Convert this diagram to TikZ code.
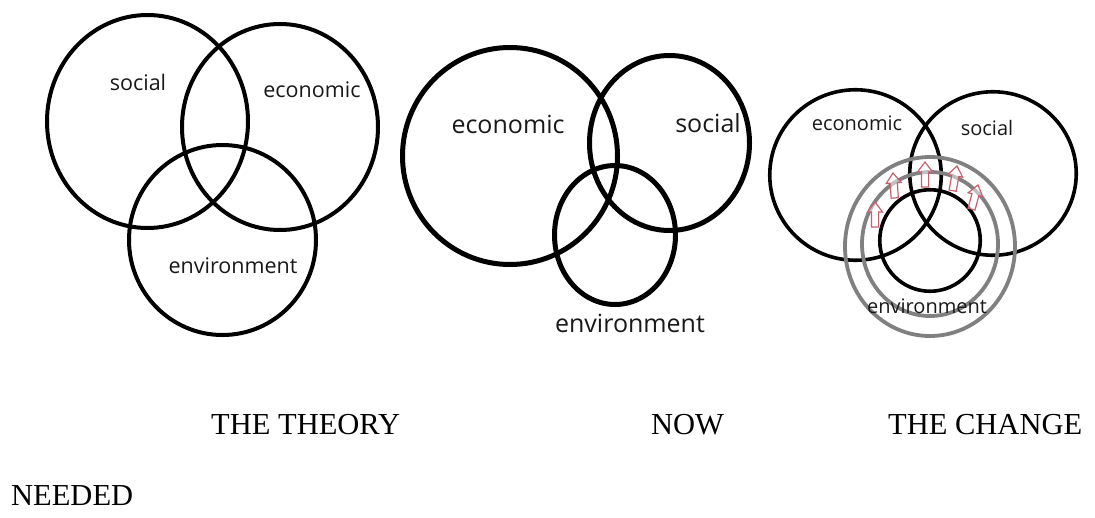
\documentclass[tikz,border=0pt]{standalone}
\usepackage{fontspec}
\setmainfont{Liberation Serif}
\newfontfamily\labelfont{Open Sans}
\definecolor{ringgray}{RGB}{128,128,128}
\definecolor{arrowred}{RGB}{200,95,110}
\definecolor{labelink}{RGB}{25,25,25}
\begin{document}
\begin{tikzpicture}[x=1pt,y=-1pt,
  ringA/.style={draw=black, line width=4pt},
  ringB/.style={draw=black, line width=5pt},
  ringC/.style={draw=black, line width=3.6pt},
  ringG/.style={draw=ringgray, line width=3.8pt},
  lblA/.style={inner sep=0pt, anchor=base, text=labelink, font=\labelfont\fontsize{21.5}{26}\selectfont},
  lblB/.style={inner sep=0pt, anchor=base, text=labelink, font=\labelfont\fontsize{25}{30}\selectfont},
  lblC/.style={inner sep=0pt, anchor=base, text=labelink, font=\labelfont\fontsize{20}{24}\selectfont},
  caption/.style={inner sep=0pt, anchor=base west, font=\fontsize{30.5}{36}\selectfont},
  uparrow/.pic={\draw[arrowred, line width=1.2pt, fill=white, fill opacity=0.5, line join=miter]
     (0,0) -- (7.5,10) -- (3.6,10) -- (3.6,25) -- (-3.6,25) -- (-3.6,10) -- (-7.5,10) -- cycle;}
]
\fill[white] (0,0) rectangle (1095,517);
\useasboundingbox (0,0) rectangle (1095,517);

% ---------- panel 1: THE THEORY ----------
\draw[ringA] (147.5,121.5) ellipse [x radius=100.5, y radius=106.5];
\draw[ringA] (280,127) ellipse [x radius=98, y radius=103];
\draw[ringA] (222.5,240) ellipse [x radius=93.5, y radius=95];
\node[lblA] (p1social) at (138,90) {social};
\node[lblA] (p1econ) at (312,97) {economic};
\node[lblA] (p1env) at (233,273) {environment};

% ---------- panel 2: NOW ----------
\draw[ringB] (510,156) ellipse [x radius=107.5, y radius=108.5];
\draw[ringB] (669.5,143) ellipse [x radius=80, y radius=87.5];
\draw[ringB] (615,235) ellipse [x radius=60.5, y radius=69.5];
\node[lblB] (p2econ) at (508,133) {economic};
\node[lblB] (p2social) at (708,132) {social};
\node[lblB] (p2env) at (630,332) {environment};

% ---------- panel 3: THE CHANGE NEEDED ----------
\draw[ringC] (855.5,175) ellipse [x radius=85.75, y radius=85.25];
\draw[ringC] (993,173.5) ellipse [x radius=83.25, y radius=81.75];
\draw[ringC] (930,240.5) ellipse [x radius=50.25, y radius=50.75];
\draw[ringG] (930,244) ellipse [x radius=68, y radius=72];
\draw[ringG] (930,246.5) ellipse [x radius=85, y radius=89.5];
\pic at (875,202) {uparrow};
\pic[rotate=4] at (893,173) {uparrow};
\pic at (925,162) {uparrow};
\pic[rotate=-10] at (957,166) {uparrow};
\pic[rotate=-15] at (978,185) {uparrow};
\node[lblC] (p3econ) at (857,130) {economic};
\node[lblC] (p3social) at (987,135) {social};
\node[lblC] (p3env) at (927,313) {environment};

% ---------- captions ----------
\node[caption] (capTheory) at (211,434) {THE THEORY};
\node[caption] (capNow) at (651,434) {NOW};
\node[caption] (capChange) at (888,434) {THE CHANGE};
\node[caption] (capNeeded) at (11,505) {NEEDED};
\end{tikzpicture}
\end{document}
